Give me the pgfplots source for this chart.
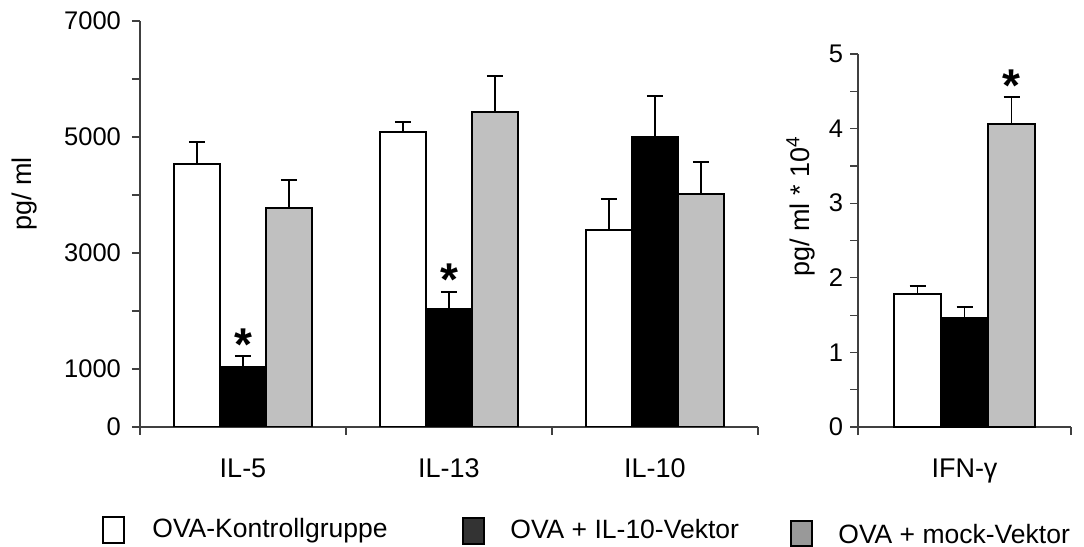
\documentclass[border=0pt]{standalone}
\usepackage{fontspec}
\setmainfont{Liberation Sans}
\usepackage{pgfplots}
\pgfplotsset{compat=1.18}
\definecolor{barg}{HTML}{C0C0C0}
\definecolor{legdark}{HTML}{333333}
\definecolor{leggray}{HTML}{999999}
\newcommand\tickfont{\fontsize{12.75}{15}\selectfont}
\newcommand\catfont{\fontsize{13.5}{16}\selectfont}
\newcommand\labfont{\fontsize{13.5}{16}\selectfont}
\newcommand\starfont{\fontsize{23}{26}\selectfont\bfseries}

\pgfplotsset{
  panel/.style={
    scale only axis, axis x line*=bottom, axis y line*=left,
    tick align=outside, major tick length=4pt, minor tick length=4pt,
    axis line style={black!75, line width=0.6pt},
    tick style={black!75, line width=0.6pt},
    major x tick style={draw=none},
    ybar=0pt,
    yticklabel style={font=\tickfont},
    xticklabel style={font=\catfont, yshift=-8.5pt},
    error bars/y dir=plus, error bars/y explicit,
    error bars/error bar style={black, line width=0.8pt},
    error bars/error mark options={rotate=90, black, mark size=4pt, line width=0.8pt},
  },
  wbar/.style={fill=white, draw=black, line width=0.8pt},
  kbar/.style={fill=black, draw=black, line width=0.8pt},
  gbar/.style={fill=barg, draw=black, line width=0.8pt},
}

\begin{document}
\begin{tikzpicture}
\path[use as bounding box] (-70pt,-60pt) rectangle (472pt,213.5pt);

% IL-5, IL-13, IL-10 (pg/ml)
\begin{axis}[panel, at={(0,0)}, anchor=south west,
  width=309pt, height=203pt, bar width=23pt,
  xmin=0.5, xmax=3.5, ymin=0, ymax=7000,
  xtick={1,2,3}, xticklabels={IL-5,IL-13,IL-10},
  minor xtick={0.5,1.5,2.5,3.5},
  ytick={0,1000,3000,5000,7000},
  minor ytick={2000,4000,6000},
  yticklabels={0,1000,3000,5000,7000},
  yticklabel style={xshift=-2pt}]
\addplot[wbar] coordinates {(1,4534) +- (0,380) (2,5086) +- (0,173) (3,3397) +- (0,534)};
\addplot[kbar] coordinates {(1,1034) +- (0,190) (2,2034) +- (0,294) (3,5000) +- (0,707)};
\addplot[gbar] coordinates {(1,3776) +- (0,483) (2,5431) +- (0,621) (3,4017) +- (0,552)};
\node[anchor=base, inner sep=0, yshift=-2pt, font=\starfont] at (axis cs:1,1224) {*};
\node[anchor=base, inner sep=0, yshift=-2pt, font=\starfont] at (axis cs:2,2328) {*};
\end{axis}

% IFN-gamma (pg/ml * 10^4)
\begin{axis}[panel, at={(359pt,0)}, anchor=south west,
  width=106.5pt, height=186.5pt, bar width=23.5pt,
  xmin=0.5, xmax=1.5, ymin=0, ymax=5,
  xtick={1}, xticklabels={IFN-γ},
  minor xtick={0.5,1.5},
  ytick={0,1,2,3,4,5},
  minor ytick={0.5,1.5,2.5,3.5,4.5},
  yticklabels={0,1,2,3,4,5}]
\addplot[wbar] coordinates {(1,1.78) +- (0,0.11)};
\addplot[kbar] coordinates {(1,1.47) +- (0,0.14)};
\addplot[gbar] coordinates {(1,4.06) +- (0,0.36)};
\node[anchor=base, inner sep=0, xshift=23.5pt, yshift=-2pt, font=\starfont] at (axis cs:1,4.42) {*};
\end{axis}

% axis titles
\node[rotate=90, font=\labfont] at (-57.5pt,116.5pt) {pg/ ml};
\node[rotate=90, font=\labfont] at (330.5pt,110.25pt) {pg/ ml * 10\textsuperscript{4}};

% legend
\begin{scope}[font=\fontsize{13.25}{16}\selectfont]
\draw[black, line width=0.7pt, fill=white] (-18.5pt,-45pt) rectangle (-8pt,-58pt);
\node[anchor=base west, inner sep=0] at (6pt,-55.5pt) {OVA-Kontrollgruppe};
\draw[black, line width=0.7pt, fill=legdark] (161.5pt,-45.5pt) rectangle (172pt,-58.5pt);
\node[anchor=base west, inner sep=0] at (185pt,-56pt) {OVA + IL-10-Vektor};
\draw[black, line width=0.7pt, fill=leggray] (325.5pt,-47pt) rectangle (336pt,-59.5pt);
\node[anchor=base west, inner sep=0] at (349pt,-58.5pt) {OVA + mock-Vektor};
\end{scope}
\end{tikzpicture}
\end{document}
